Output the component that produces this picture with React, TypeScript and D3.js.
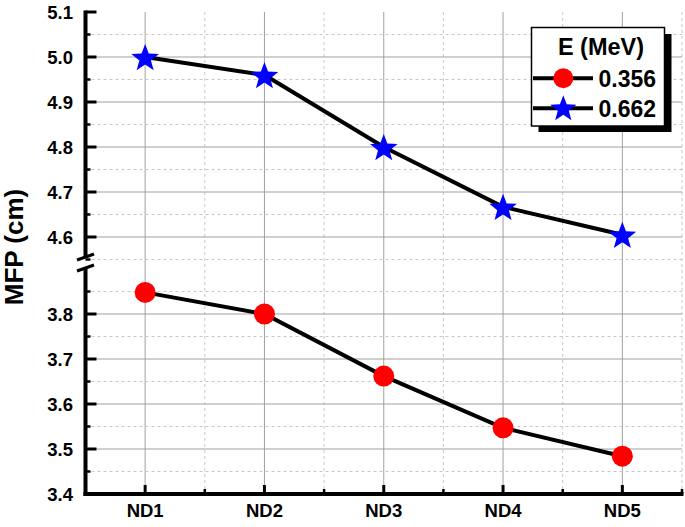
import React from "react";
import * as d3 from "d3";

const categories = ["ND1", "ND2", "ND3", "ND4", "ND5"];
const seriesNames = ["0.356", "0.662"];
const low = [3.848, 3.8, 3.662, 3.547, 3.484];
const high = [5.0, 4.96, 4.8, 4.667, 4.605];
const lowTicks = [3.4, 3.5, 3.6, 3.7, 3.8];
const highTicks = [4.6, 4.7, 4.8, 4.9, 5.0, 5.1];
const legendTitle = "E (MeV)";
const yTitle = "MFP (cm)";

const W = 685, H = 527;
const FONT = "'Liberation Sans', Arial, sans-serif";

export default function App() {
  const x = d3.scaleLinear().domain([0.5, 5.5]).range([85.5, 682]);
  const yHi = d3.scaleLinear().domain([4.55, 5.1]).range([259.5, 12]);
  const yLo = d3.scaleLinear().domain([3.4, 3.9]).range([494, 269]);
  const axX = 85.5;
  const axBottom = 494;

  const starPath = (r: number) => {
    const pts: string[] = [];
    for (let i = 0; i < 10; i++) {
      const rr = i % 2 === 0 ? r : r * 0.42;
      const a = -Math.PI / 2 + (i * Math.PI) / 5;
      pts.push(`${(rr * Math.cos(a)).toFixed(2)},${(rr * Math.sin(a)).toFixed(2)}`);
    }
    return "M" + pts.join("L") + "Z";
  };

  const lineLo = d3.line<number>().x((_, i) => x(i + 1)).y((d) => yLo(d));
  const lineHi = d3.line<number>().x((_, i) => x(i + 1)).y((d) => yHi(d));

  const hiMinor = d3.range(4.55, 5.101, 0.05).map((v) => +v.toFixed(2));
  const loMinor = d3.range(3.45, 3.86, 0.1).map((v) => +v.toFixed(2));
  const hiMinorOnly = hiMinor.filter((v) => !highTicks.some((t) => Math.abs(t - v) < 1e-6));
  const xMinor = d3.range(1.5, 5.6, 1);

  const gridTop = 12, gridRight = 682;

  return (
    <svg width={W} height={H} style={{ position: "absolute", left: 0, top: 0, background: "#fff" }} fontFamily={FONT}>
      {/* grids */}
      <g>
        {xMinor.map((v) => (
          <line key={"xm" + v} x1={x(v)} x2={x(v)} y1={gridTop} y2={axBottom} stroke="#c8c8c8" strokeDasharray="3,3" strokeWidth={1} />
        ))}
        {categories.map((c, i) => (
          <line key={"xg" + c} x1={x(i + 1)} x2={x(i + 1)} y1={gridTop} y2={axBottom} stroke="#a0a0a0" strokeWidth={1} />
        ))}
        {hiMinorOnly.map((v) => (
          <line key={"hm" + v} x1={axX} x2={gridRight} y1={yHi(v)} y2={yHi(v)} stroke="#c8c8c8" strokeDasharray="3,3" strokeWidth={1} />
        ))}
        {loMinor.map((v) => (
          <line key={"lm" + v} x1={axX} x2={gridRight} y1={yLo(v)} y2={yLo(v)} stroke="#c8c8c8" strokeDasharray="3,3" strokeWidth={1} />
        ))}
        {highTicks.filter((t) => t < 5.1).map((v) => (
          <line key={"hg" + v} x1={axX} x2={gridRight} y1={yHi(v)} y2={yHi(v)} stroke="#a0a0a0" strokeWidth={1} />
        ))}
        {lowTicks.filter((t) => t > 3.4).map((v) => (
          <line key={"lg" + v} x1={axX} x2={gridRight} y1={yLo(v)} y2={yLo(v)} stroke="#a0a0a0" strokeWidth={1} />
        ))}
      </g>

      {/* axes */}
      <g stroke="#000">
        <line x1={axX} x2={axX} y1={gridTop - 1.5} y2={257} strokeWidth={4} />
        <line x1={axX} x2={axX} y1={267} y2={axBottom + 2} strokeWidth={4} />
        <line x1={axX - 2} x2={gridRight + 1.5} y1={axBottom} y2={axBottom} strokeWidth={4} />
        <line x1={gridRight} x2={gridRight} y1={axBottom} y2={axBottom - 5} strokeWidth={2} />
        {highTicks.map((v) => (
          <line key={"ht" + v} x1={axX} x2={axX + 11} y1={yHi(v)} y2={yHi(v)} strokeWidth={3} />
        ))}
        {hiMinorOnly.map((v) => (
          <line key={"hmt" + v} x1={axX} x2={axX + 5} y1={yHi(v)} y2={yHi(v)} strokeWidth={2.5} />
        ))}
        {lowTicks.map((v) => (
          <line key={"lt" + v} x1={axX} x2={axX + 11} y1={yLo(v)} y2={yLo(v)} strokeWidth={3} />
        ))}
        {loMinor.map((v) => (
          <line key={"lmt" + v} x1={axX} x2={axX + 5} y1={yLo(v)} y2={yLo(v)} strokeWidth={2.5} />
        ))}
        {categories.map((c, i) => (
          <line key={"xt" + c} x1={x(i + 1)} x2={x(i + 1)} y1={axBottom} y2={axBottom - 9} strokeWidth={3} />
        ))}
        {xMinor.map((v) => (
          <line key={"xmt" + v} x1={x(v)} x2={x(v)} y1={axBottom} y2={axBottom - 5} strokeWidth={2.5} />
        ))}
        {/* break marks */}
        <line x1={77} x2={94} y1={260} y2={254} strokeWidth={3} />
        <line x1={77} x2={94} y1={271} y2={265} strokeWidth={3} />
      </g>

      {/* tick labels */}
      <g fontWeight="bold" fontSize={18.5} fill="#000" textAnchor="end">
        {highTicks.map((v) => (
          <text key={"hl" + v} x={73} y={yHi(v)} dy="0.36em">{v.toFixed(1)}</text>
        ))}
        {lowTicks.map((v) => (
          <text key={"ll" + v} x={73} y={yLo(v)} dy="0.36em">{v.toFixed(1)}</text>
        ))}
      </g>
      <g fontWeight="bold" fontSize={18.5} fill="#000" textAnchor="middle">
        {categories.map((c, i) => (
          <text key={"xl" + c} x={x(i + 1)} y={517}>{c}</text>
        ))}
      </g>
      <text transform="translate(23,247) rotate(-90)" textAnchor="middle" fontWeight="bold" fontSize={26}>{yTitle}</text>

      {/* series */}
      <path d={lineLo(low) || ""} fill="none" stroke="#000" strokeWidth={4} />
      <path d={lineHi(high) || ""} fill="none" stroke="#000" strokeWidth={4} />
      {low.map((v, i) => (
        <circle key={"c" + i} cx={x(i + 1)} cy={yLo(v)} r={10.5} fill="#ff0000" />
      ))}
      {high.map((v, i) => (
        <path key={"s" + i} d={starPath(14.5)} transform={`translate(${x(i + 1)},${yHi(v) + 1.5})`} fill="#0000ff" />
      ))}

      {/* legend */}
      <g>
        <rect x={538.5} y={34} width={133} height={98} fill="#000" />
        <rect x={531.5} y={27.5} width={133} height={98.5} fill="#fff" stroke="#000" strokeWidth={1.5} />
        <text x={601} y={55} textAnchor="middle" fontWeight="bold" fontSize={23.5}>{legendTitle}</text>
        <line x1={533} x2={593} y1={78.3} y2={78.3} stroke="#000" strokeWidth={4} />
        <circle cx={563.3} cy={78.3} r={10} fill="#ff0000" />
        <text x={598.5} y={78.5} dy="0.36em" fontWeight="bold" fontSize={23}>{seriesNames[0]}</text>
        <line x1={533} x2={593} y1={108.3} y2={108.3} stroke="#000" strokeWidth={4} />
        <path d={starPath(13.8)} transform="translate(563.3,109)" fill="#0000ff" />
        <text x={598.5} y={108.5} dy="0.36em" fontWeight="bold" fontSize={23}>{seriesNames[1]}</text>
      </g>
    </svg>
  );
}
